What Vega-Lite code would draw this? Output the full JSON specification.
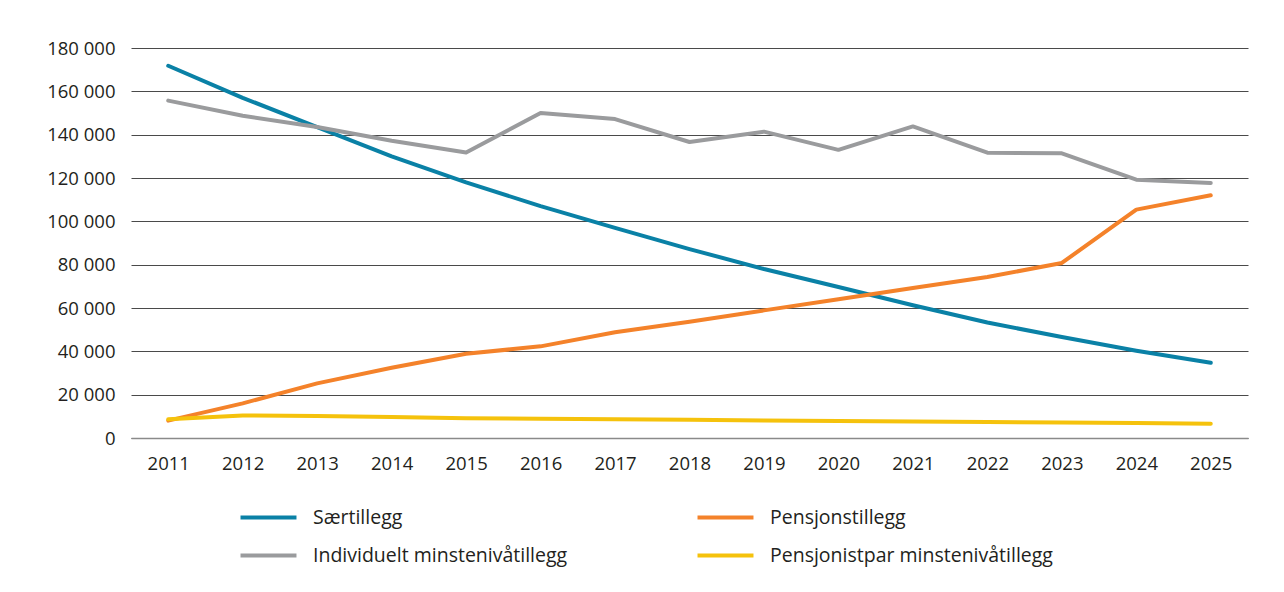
{
  "$schema": "https://vega.github.io/schema/vega-lite/v6.json",
  "autosize": {"type": "none"},
  "padding": {"left": 131, "top": 48, "right": 36, "bottom": 154},
  "width": 1117,
  "height": 390,
  "background": "white",
  "config": {
    "font": "Open Sans",
    "view": {"stroke": null},
    "axis": {"labelFont": "Open Sans", "labelFontSize": 18.5, "labelColor": "#231f20", "title": null}
  },
  "data": {"values": [
    {"year": "2011", "series": "Særtillegg", "value": 171800},
    {"year": "2012", "series": "Særtillegg", "value": 157000},
    {"year": "2013", "series": "Særtillegg", "value": 143500},
    {"year": "2014", "series": "Særtillegg", "value": 130000},
    {"year": "2015", "series": "Særtillegg", "value": 118000},
    {"year": "2016", "series": "Særtillegg", "value": 107000},
    {"year": "2017", "series": "Særtillegg", "value": 97000},
    {"year": "2018", "series": "Særtillegg", "value": 87200},
    {"year": "2019", "series": "Særtillegg", "value": 78000},
    {"year": "2020", "series": "Særtillegg", "value": 69700},
    {"year": "2021", "series": "Særtillegg", "value": 61300},
    {"year": "2022", "series": "Særtillegg", "value": 53300},
    {"year": "2023", "series": "Særtillegg", "value": 46600},
    {"year": "2024", "series": "Særtillegg", "value": 40300},
    {"year": "2025", "series": "Særtillegg", "value": 34700},
    {"year": "2011", "series": "Pensjonstillegg", "value": 8000},
    {"year": "2012", "series": "Pensjonstillegg", "value": 16000},
    {"year": "2013", "series": "Pensjonstillegg", "value": 25200},
    {"year": "2014", "series": "Pensjonstillegg", "value": 32400},
    {"year": "2015", "series": "Pensjonstillegg", "value": 38900},
    {"year": "2016", "series": "Pensjonstillegg", "value": 42300},
    {"year": "2017", "series": "Pensjonstillegg", "value": 48800},
    {"year": "2018", "series": "Pensjonstillegg", "value": 53700},
    {"year": "2019", "series": "Pensjonstillegg", "value": 58900},
    {"year": "2020", "series": "Pensjonstillegg", "value": 64000},
    {"year": "2021", "series": "Pensjonstillegg", "value": 69200},
    {"year": "2022", "series": "Pensjonstillegg", "value": 74300},
    {"year": "2023", "series": "Pensjonstillegg", "value": 80800},
    {"year": "2024", "series": "Pensjonstillegg", "value": 105400},
    {"year": "2025", "series": "Pensjonstillegg", "value": 112000},
    {"year": "2011", "series": "Individuelt minstenivåtillegg", "value": 155700},
    {"year": "2012", "series": "Individuelt minstenivåtillegg", "value": 148700},
    {"year": "2013", "series": "Individuelt minstenivåtillegg", "value": 143500},
    {"year": "2014", "series": "Individuelt minstenivåtillegg", "value": 137200},
    {"year": "2015", "series": "Individuelt minstenivåtillegg", "value": 131800},
    {"year": "2016", "series": "Individuelt minstenivåtillegg", "value": 150000},
    {"year": "2017", "series": "Individuelt minstenivåtillegg", "value": 147200},
    {"year": "2018", "series": "Individuelt minstenivåtillegg", "value": 136600},
    {"year": "2019", "series": "Individuelt minstenivåtillegg", "value": 141400},
    {"year": "2020", "series": "Individuelt minstenivåtillegg", "value": 133000},
    {"year": "2021", "series": "Individuelt minstenivåtillegg", "value": 143800},
    {"year": "2022", "series": "Individuelt minstenivåtillegg", "value": 131700},
    {"year": "2023", "series": "Individuelt minstenivåtillegg", "value": 131400},
    {"year": "2024", "series": "Individuelt minstenivåtillegg", "value": 119200},
    {"year": "2025", "series": "Individuelt minstenivåtillegg", "value": 117700},
    {"year": "2011", "series": "Pensjonistpar minstenivåtillegg", "value": 8600},
    {"year": "2012", "series": "Pensjonistpar minstenivåtillegg", "value": 10400},
    {"year": "2013", "series": "Pensjonistpar minstenivåtillegg", "value": 10100},
    {"year": "2014", "series": "Pensjonistpar minstenivåtillegg", "value": 9700},
    {"year": "2015", "series": "Pensjonistpar minstenivåtillegg", "value": 9100},
    {"year": "2016", "series": "Pensjonistpar minstenivåtillegg", "value": 8900},
    {"year": "2017", "series": "Pensjonistpar minstenivåtillegg", "value": 8700},
    {"year": "2018", "series": "Pensjonistpar minstenivåtillegg", "value": 8400},
    {"year": "2019", "series": "Pensjonistpar minstenivåtillegg", "value": 8100},
    {"year": "2020", "series": "Pensjonistpar minstenivåtillegg", "value": 7800},
    {"year": "2021", "series": "Pensjonistpar minstenivåtillegg", "value": 7600},
    {"year": "2022", "series": "Pensjonistpar minstenivåtillegg", "value": 7400},
    {"year": "2023", "series": "Pensjonistpar minstenivåtillegg", "value": 7200},
    {"year": "2024", "series": "Pensjonistpar minstenivåtillegg", "value": 6900},
    {"year": "2025", "series": "Pensjonistpar minstenivåtillegg", "value": 6600}
  ]},
  "mark": {"type": "line", "strokeWidth": 4, "strokeCap": "round", "strokeJoin": "round"},
  "encoding": {
    "x": {
      "field": "year", "type": "ordinal",
      "scale": {"type": "point", "padding": 0.5},
      "axis": {"labelAngle": 0, "ticks": false, "domain": true, "domainColor": "#8a8a8a", "domainWidth": 1.5, "grid": false, "labelPadding": 16}
    },
    "y": {
      "field": "value", "type": "quantitative",
      "scale": {"domain": [0, 180000], "nice": false},
      "axis": {"values": [0, 20000, 40000, 60000, 80000, 100000, 120000, 140000, 160000, 180000], "domain": false, "ticks": false, "labelPadding": 16, "gridColor": "#4a4a4a", "gridWidth": 1, "labelExpr": "replace(format(datum.value, ','), ',', ' ')"}
    },
    "color": {
      "field": "series", "type": "nominal",
      "sort": ["Særtillegg", "Pensjonstillegg", "Individuelt minstenivåtillegg", "Pensjonistpar minstenivåtillegg"],
      "scale": {"domain": ["Særtillegg", "Pensjonstillegg", "Individuelt minstenivåtillegg", "Pensjonistpar minstenivåtillegg"], "range": ["#0a81a6", "#f4822a", "#9a9b9d", "#f5c20c"]},
      "legend": {
        "title": null, "orient": "none", "legendX": 126, "legendY": 458, "columns": 2, "direction": "horizontal",
        "symbolType": "M-3,0H3", "symbolSize": 348, "symbolStrokeWidth": 4,
        "labelFont": "Open Sans", "labelFontSize": 19.5, "labelColor": "#231f20", "labelOffset": 33, "labelLimit": 400,
        "columnPadding": 121, "rowPadding": 17
      }
    }
  }
}
